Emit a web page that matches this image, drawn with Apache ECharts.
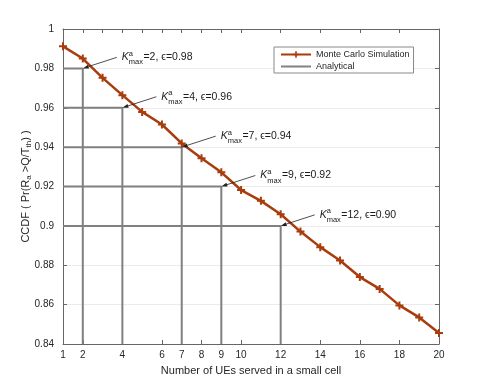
<!DOCTYPE html>
<html><head><meta charset="utf-8">
<script src="https://cdn.jsdelivr.net/npm/echarts@6/dist/echarts.min.js"></script>
<style>html,body{margin:0;padding:0;background:#fff}#c{width:485px;height:388px}</style>
</head><body><div id="c"></div>
<script>
// ---- data ----
const xValues = [1,2,3,4,5,6,7,8,9,10,11,12,13,14,15,16,17,18,19,20];
const mcValues = [0.9912,0.9850,0.9752,0.9664,0.9579,0.9515,0.9419,0.9343,0.9272,0.9182,
                  0.9127,0.9059,0.8971,0.8892,0.8824,0.8740,0.8680,0.8596,0.8535,0.8456];
const kMaxValues = [2,4,7,9,12];
const epsValues = [0.98,0.96,0.94,0.92,0.90];
const xTickLabels = [1,2,4,6,7,8,9,10,12,14,16,18,20];
const xTopTicks = [1,2,3,4,5,6,7,8,9,10,12,14,16,18,20];
const yMin = 0.84, yMax = 1, yStep = 0.02;
const xMin = 1, xMax = 20;
const seriesNames = ['Monte Carlo Simulation','Analytical'];

// ---- style ----
const FONT = '"Liberation Sans", Arial, Helvetica, sans-serif';
const MC_COLOR = '#a83c0c';
const AN_COLOR = '#808080';
const AXIS_COLOR = '#666666';
const TEXT_COLOR = '#262626';
const PLUS = 'path://M3,0h2v3h3v2h-3v3h-2v-3h-3v-2h3z';

const cv = document.createElement('canvas').getContext('2d');
function tw(text, font){ cv.font = font; return cv.measureText(text).width; }
const SUB_FONT = '7.5px ' + FONT;
const MAIN_FONT = '10.5px ' + FONT;
const wMax = tw('max', SUB_FONT);

function renderAnnot(params, api){
  const k = api.value(0), e = api.value(1);
  const p = api.coord([k, e]);
  const sx = p[0] + 34, sy = p[1] - 11;
  const ang = Math.atan2(p[1] - sy, p[0] - sx);
  const L = 6, W = 2;
  const bx = p[0] - L*Math.cos(ang), by = p[1] - L*Math.sin(ang);
  const nx = -Math.sin(ang)*W, ny = Math.cos(ang)*W;
  const x0 = sx + 5, y0 = sy;
  const ts = (t, f) => ({text: t, font: f, fill: '#1a1a1a', align: 'left', verticalAlign: 'middle'});
  return {type: 'group', children: [
    {type: 'line', shape: {x1: sx, y1: sy, x2: bx, y2: by}, style: {stroke: '#222', lineWidth: 0.8}},
    {type: 'polygon', shape: {points: [[p[0], p[1]], [bx+nx, by+ny], [bx-nx, by-ny]]}, style: {fill: '#222'}},
    {type: 'text', x: x0, y: y0, style: ts('K', 'italic ' + MAIN_FONT)},
    {type: 'text', x: x0 + 7, y: y0 - 3.5, style: ts('a', SUB_FONT)},
    {type: 'text', x: x0 + 7, y: y0 + 5, style: ts('max', SUB_FONT)},
    {type: 'text', x: x0 + 7 + wMax + 0.5, y: y0, style: ts('=' + k + ', \u03F5=' + e.toFixed(2), MAIN_FONT)}
  ]};
}

const series = [];
kMaxValues.forEach((k, i) => {
  series.push({
    name: seriesNames[1], type: 'line', symbol: 'none', silent: true,
    data: [[xMin, epsValues[i]], [k, epsValues[i]], [k, yMin]],
    lineStyle: {color: AN_COLOR, width: 2}, itemStyle: {color: AN_COLOR}, z: 2
  });
});
series.push({
  name: seriesNames[0], type: 'line', symbol: PLUS, symbolSize: 8,
  data: xValues.map((x, i) => [x, mcValues[i]]),
  lineStyle: {color: MC_COLOR, width: 2.5}, itemStyle: {color: MC_COLOR}, z: 3
});
series.push({
  type: 'custom', renderItem: renderAnnot, silent: true, z: 4, clip: false,
  data: kMaxValues.map((k, i) => [k, epsValues[i]])
});

const chart = echarts.init(document.getElementById('c'), null, {renderer: 'canvas'});
chart.setOption({
  animation: false,
  backgroundColor: '#fff',
  textStyle: {fontFamily: FONT},
  grid: {left: 63, right: 46, top: 29, bottom: 44},
  legend: {
    data: [{name: seriesNames[0]}, {name: seriesNames[1], itemStyle: {opacity: 0}}],
    orient: 'vertical', left: 274, top: 47,
    itemWidth: 30, itemHeight: 8, itemGap: 3, padding: [3, 4, 2, 6],
    borderColor: '#888', borderWidth: 1, backgroundColor: '#fff',
    textStyle: {fontSize: 9, color: TEXT_COLOR, fontFamily: FONT}
  },
  xAxis: [{
    type: 'value', min: xMin, max: xMax, position: 'bottom',
    name: 'Number of UEs served in a small cell', nameLocation: 'middle', nameGap: 21,
    nameMoveOverlap: false,
    nameTextStyle: {fontSize: 11, color: TEXT_COLOR, fontFamily: FONT},
    axisLine: {lineStyle: {color: AXIS_COLOR, width: 1}},
    axisTick: {inside: true, length: 4, customValues: xTickLabels, lineStyle: {color: AXIS_COLOR}},
    axisLabel: {customValues: xTickLabels, fontSize: 10, color: TEXT_COLOR, margin: 6, fontFamily: FONT},
    splitLine: {show: false}
  }, {
    type: 'value', min: xMin, max: xMax, position: 'top',
    axisLine: {lineStyle: {color: AXIS_COLOR, width: 1}},
    axisTick: {inside: true, length: 4, customValues: xTopTicks, lineStyle: {color: AXIS_COLOR}},
    axisLabel: {show: false}, splitLine: {show: false}
  }],
  yAxis: [{
    type: 'value', min: yMin, max: yMax, interval: yStep, position: 'left',
    name: 'CCDF ( Pr(R{sub|a} >Q/T{sub|th}) )', nameLocation: 'middle', nameGap: 30, nameRotate: 90,
    nameMoveOverlap: false,
    nameTextStyle: {fontSize: 11, color: TEXT_COLOR, fontFamily: FONT, lineHeight: 14,
      rich: {sub: {fontSize: 8, verticalAlign: 'bottom', lineHeight: 8, color: TEXT_COLOR, fontFamily: FONT}}},
    axisLine: {show: true, lineStyle: {color: AXIS_COLOR, width: 1}},
    axisTick: {show: true, inside: true, length: 4, lineStyle: {color: AXIS_COLOR}},
    axisLabel: {fontSize: 10, color: TEXT_COLOR, margin: 9, fontFamily: FONT,
      formatter: v => String(+v.toFixed(2))},
    splitLine: {show: true, lineStyle: {color: '#ebebeb', width: 1}}
  }, {
    type: 'value', min: yMin, max: yMax, interval: yStep, position: 'right',
    axisLine: {show: true, lineStyle: {color: AXIS_COLOR, width: 1}},
    axisTick: {show: true, inside: true, length: 4, lineStyle: {color: AXIS_COLOR}},
    axisLabel: {show: false}, splitLine: {show: false}
  }],
  series: series
});
</script></body></html>
